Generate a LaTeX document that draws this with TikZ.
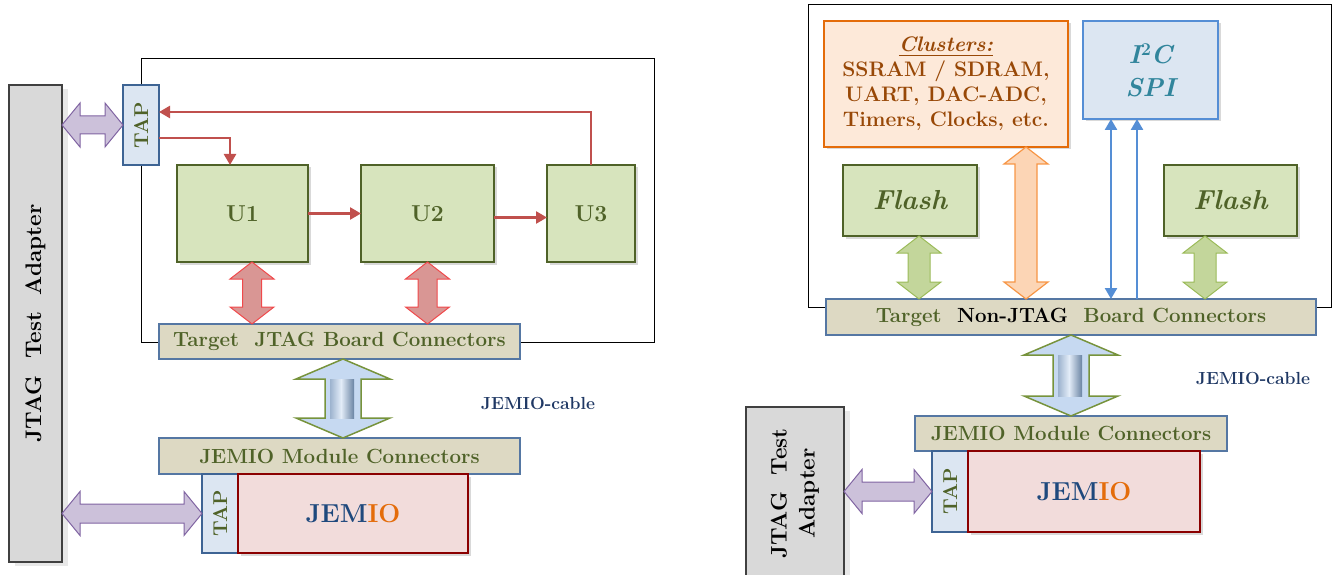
\documentclass[tikz,border=0pt]{standalone}
\usepackage{fontspec}
\usepackage{amsmath}
\usetikzlibrary{arrows.meta,calc,shadows,positioning}
\definecolor{jolive}{HTML}{4F6228}
\definecolor{jgreen}{HTML}{D7E4BD}
\definecolor{jtap}{HTML}{DCE6F2}
\definecolor{jtapline}{HTML}{3E6494}
\definecolor{jconn}{HTML}{DDD9C3}
\definecolor{jconnline}{HTML}{5577A3}
\definecolor{jgray}{HTML}{D9D9D9}
\definecolor{jgrayline}{HTML}{404040}
\definecolor{jred}{HTML}{C0504D}
\definecolor{jredfill}{HTML}{D99694}
\definecolor{jredline}{HTML}{F0494B}
\definecolor{jpurple}{HTML}{CCC1DA}
\definecolor{jpurpleline}{HTML}{8064A2}
\definecolor{jpink}{HTML}{F2DCDB}
\definecolor{jdarkred}{HTML}{8B0000}
\definecolor{jblue}{HTML}{1F497D}
\definecolor{jorange}{HTML}{E46C0A}
\definecolor{jnavy}{HTML}{1F3864}
\definecolor{jpeach}{HTML}{FDE9D9}
\definecolor{jbrown}{HTML}{984807}
\definecolor{jpeachfill}{HTML}{FCD5B5}
\definecolor{jpeachline}{HTML}{F79646}
\definecolor{jsky}{HTML}{558ED5}
\definecolor{jteal}{HTML}{31859C}
\definecolor{jleaf}{HTML}{C3D69B}
\definecolor{jleafline}{HTML}{9BBB59}
\definecolor{jcable}{HTML}{C6D9F1}
\definecolor{jcabledark}{HTML}{6A84A3}
\definecolor{jcableline}{HTML}{77933C}
% vertical double block arrow: style, top, bottom, head half width, shaft half width, head length
\newcommand\vblock[6]{\draw[#1] let \p1=(#2), \p2=(#3) in
  (\x1,\y1) -- (\x1+#4,\y1-#6) -- (\x1+#5,\y1-#6) -- (\x1+#5,\y2+#6) -- (\x1+#4,\y2+#6)
  -- (\x1,\y2) -- (\x1-#4,\y2+#6) -- (\x1-#5,\y2+#6) -- (\x1-#5,\y1-#6) -- (\x1-#4,\y1-#6) -- cycle;}
% horizontal one: style, left, right, ...
\newcommand\hblock[6]{\draw[#1] let \p1=(#2), \p2=(#3) in
  (\x1,\y2) -- (\x1+#6,\y2+#4) -- (\x1+#6,\y2+#5) -- (\x2-#6,\y2+#5) -- (\x2-#6,\y2+#4)
  -- (\x2,\y2) -- (\x2-#6,\y2-#4) -- (\x2-#6,\y2-#5) -- (\x1+#6,\y2-#5) -- (\x1+#6,\y2-#4) -- cycle;}
\newcommand\cablebevel[2]{%
  \shade[left color=jcabledark!45!jcable,right color=jcable!50!white]
  let \p1=(#1), \p2=(#2) in (\x1-13pt,\y1-20pt) rectangle (\x1-2pt,\y2+20pt);
  \shade[left color=jcable!50!white,right color=jcabledark]
  let \p1=(#1), \p2=(#2) in (\x1-2pt,\y1-20pt) rectangle (\x1+11pt,\y2+20pt);}

\begin{document}
\begin{tikzpicture}[x=1pt,y=-1pt,>={Triangle[length=11pt,width=12pt]},
  jbox/.style={anchor=north west,inner sep=0pt,outer sep=0pt},
  shadowed/.style={drop shadow={shadow xshift=2.5pt,shadow yshift=-2.5pt,opacity=.3}},
  adapterbox/.style={jbox,draw=jgrayline,fill=jgray,line width=1.2pt,
    font=\fontsize{22.5}{28}\selectfont\bfseries,drop shadow={shadow xshift=6pt,shadow yshift=-4pt,opacity=.18}},
  tapbox/.style={jbox,draw=jtapline,fill=jtap,line width=1.5pt,text=jolive,
    font=\fontsize{20}{24}\selectfont\bfseries,minimum width=36pt},
  unitbox/.style={jbox,shadowed,draw=jolive,fill=jgreen,line width=1.8pt,text=jolive,
    font=\fontsize{23}{27}\selectfont\bfseries,minimum height=97pt},
  flashbox/.style={jbox,shadowed,draw=jolive,fill=jgreen,line width=1.8pt,text=jolive,
    font=\fontsize{27.5}{32}\selectfont\bfseries\itshape,minimum width=134pt,minimum height=71pt},
  connbox/.style={jbox,draw=jconnline,fill=jconn,line width=1.2pt,text=jolive,
    font=\fontsize{20.5}{24}\selectfont\bfseries,minimum height=35pt},
  jemiobox/.style={jbox,shadowed,draw=jdarkred,fill=jpink,line width=2pt,
    font=\fontsize{26}{30}\selectfont\bfseries},
  cablelabel/.style={text=jnavy,font=\fontsize{17.5}{21}\selectfont\bfseries},
  redlink/.style={draw=jred,line width=2.5pt,->},
  bluelink/.style={draw=jsky,line width=2.5pt},
  redblock/.style={fill=jredfill,draw=jredline,line width=1pt},
  leafblock/.style={fill=jleaf,draw=jleafline,line width=1pt},
  peachblock/.style={fill=jpeachfill,draw=jpeachline,line width=1.2pt},
  purpleblock/.style={fill=jpurple,draw=jpurpleline,line width=1pt},
  cableblock/.style={fill=jcable,draw=jcableline,line width=1.5pt}]
\useasboundingbox (0,0) rectangle (1334,575);

% left: JTAG target board
\draw[line width=1pt] (141,59) rectangle (654,342);
\node[adapterbox,minimum width=53pt,minimum height=477pt] (adapter1) at (9,85) {\rotatebox{90}{JTAG\ \ Test\ \ Adapter}};
\node[tapbox,minimum height=80pt] (tap1) at (123,85) {\rotatebox{90}{TAP}};
\node[unitbox,minimum width=131pt] (u1) at (177,165) {U1};
\node[unitbox,minimum width=133pt] (u2) at (361,165) {U2};
\node[unitbox,minimum width=88pt] (u3) at (547,165) {U3};
\node[connbox,minimum width=361pt] (tjc) at (159,324) {Target\ \ JTAG Board Connectors};
\node[connbox,minimum width=361pt,minimum height=36pt] (jmc) at (159,438) {JEMIO Module Connectors};
\node[tapbox,minimum height=79pt] (tap2) at (202,474) {\rotatebox{90}{TAP}};
\node[jemiobox,minimum width=230pt,minimum height=79pt,right=0pt of tap2] (jemio1) {{\color{jblue}JEM}{\color{jorange}IO}};
\node[cablelabel] (cable1) at (538,403) {JEMIO-cable};

\draw[redlink] (u3.north) |- ([yshift=13pt]tap1.east);
\draw[redlink] ([yshift=-13pt]tap1.east) -| ([xshift=-12.5pt]u1.north);
\draw[redlink] (u1) -- (u2);
\draw[redlink] ([yshift=-4pt]u2.east) -- ([yshift=-4pt]u3.west);
\vblock{redblock}{[xshift=9.5pt]u1.south}{tjc.north}{22pt}{9.5pt}{17pt}
\vblock{redblock}{u2.south}{tjc.north}{22pt}{9.5pt}{17pt}
\vblock{cableblock}{[xshift=3.5pt]tjc.south}{jmc.north}{47pt}{18pt}{20pt}
\cablebevel{[xshift=3.5pt]tjc.south}{jmc.north}
\hblock{purpleblock}{adapter1.east}{tap1.west}{22pt}{9pt}{18pt}
\hblock{purpleblock}{adapter1.east}{tap2.west}{22pt}{9.5pt}{18pt}

% right: non-JTAG target board
\draw[line width=1pt] (808,5) rectangle (1331,307);
\node[jbox,shadowed,draw=jorange,fill=jpeach,line width=2pt,text=jbrown,align=center,
  font=\fontsize{21}{25}\selectfont\bfseries,minimum width=244pt,minimum height=126pt] (clusters) at (824,21)
  {\underline{\itshape Clusters:}\\SSRAM / SDRAM,\\UART, DAC-ADC,\\Timers, Clocks, etc.};
\node[jbox,shadowed,draw=jsky,fill=jtap,line width=2pt,text=jteal,align=center,
  font=\fontsize{26}{33}\selectfont\bfseries\itshape,minimum width=135pt,minimum height=98pt] (i2c) at (1083,21)
  {I\raisebox{8pt}{\upshape\fontsize{18}{18}\selectfont 2}C\\SPI};
\node[flashbox] (flash1) at (843,165) {Flash};
\node[flashbox,minimum width=133pt] (flash2) at (1164,165) {Flash};
\node[connbox,minimum width=490pt,minimum height=36pt] (tnj) at (826,299) {Target\ \ {\color{black}Non-JTAG}\ \ Board Connectors};
\node[connbox,minimum width=312pt] (jmc2) at (915,416) {JEMIO Module Connectors};
\node[tapbox,minimum height=81pt] (tap3) at (932,451) {\rotatebox{90}{TAP}};
\node[jemiobox,minimum width=232pt,minimum height=81pt,right=0pt of tap3] (jemio2) {{\color{jblue}JEM}{\color{jorange}IO}};
\node[adapterbox,minimum width=98pt,minimum height=173pt] (adapter2) at (746,407)
  {\rotatebox{90}{\begin{tabular}{@{}c@{}}JTAG\ \ Test\\Adapter\end{tabular}}};
\node[cablelabel] (cable2) at (1253,378) {JEMIO-cable};

\vblock{leafblock}{[xshift=9pt]flash1.south}{tnj.north}{22pt}{11pt}{17pt}
\vblock{leafblock}{[xshift=-25.5pt]flash2.south}{tnj.north}{22pt}{11pt}{17pt}
\vblock{peachblock}{[xshift=80pt]clusters.south}{tnj.north}{22pt}{11pt}{17pt}
\draw[bluelink,<->] ([xshift=-39.5pt]i2c.south) -- ([xshift=-39.5pt]i2c.south |- tnj.north);
\draw[bluelink,->] ([xshift=-13.5pt]i2c.south |- tnj.north) -- ([xshift=-13.5pt]i2c.south);
\vblock{cableblock}{tnj.south}{jmc2.north}{47pt}{18pt}{20pt}
\cablebevel{tnj.south}{jmc2.north}
\hblock{purpleblock}{adapter2.east}{tap3.west}{22pt}{9.5pt}{18pt}
\end{tikzpicture}
\end{document}
